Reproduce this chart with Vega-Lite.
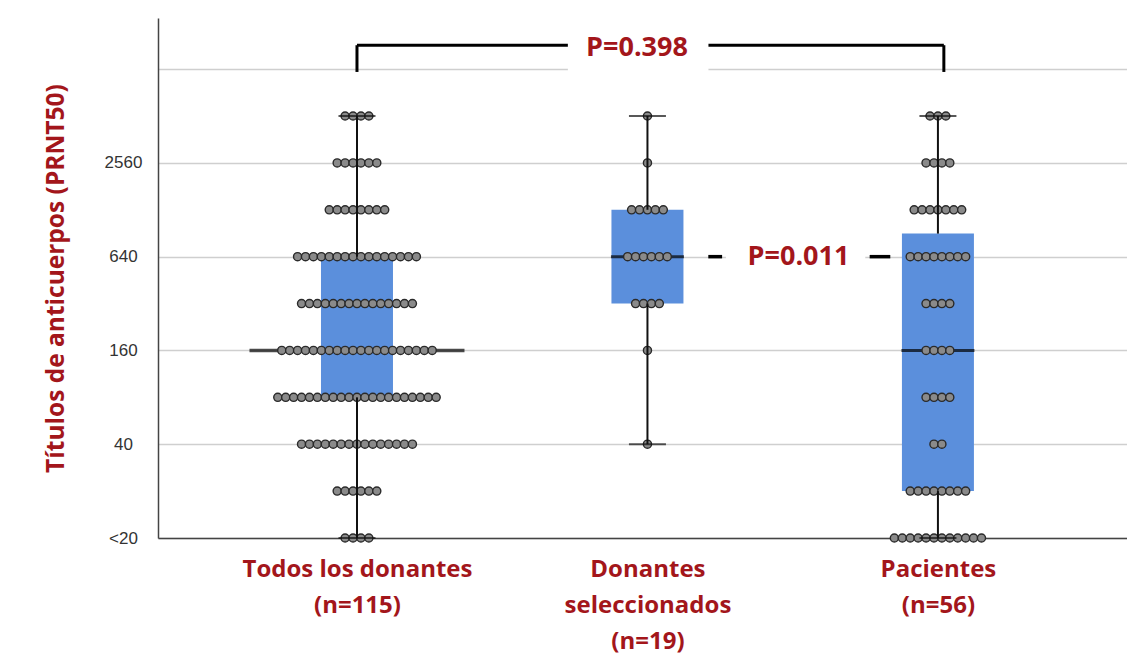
{
  "$schema": "https://vega.github.io/schema/vega-lite/v6.json",
  "width": 969,
  "height": 520,
  "autosize": {"type": "none"},
  "padding": {"left": 158, "top": 18, "right": 0, "bottom": 131},
  "background": "white",
  "config": {"view": {"stroke": null}},
  "datasets": {
    "cajas": [
      {"grupo": "Todos", "min": 10, "q1": 80, "mediana": 160, "q3": 640, "max": 5120},
      {"grupo": "Sel", "min": 40, "q1": 320, "mediana": 640, "q3": 1280, "max": 5120},
      {"grupo": "Pac", "min": 10, "q1": 20, "mediana": 160, "q3": 900, "max": 5120}
    ],
    "puntos": [
      {"grupo":"Todos","titulo":5120},{"grupo":"Todos","titulo":5120},{"grupo":"Todos","titulo":5120},{"grupo":"Todos","titulo":5120},
      {"grupo":"Todos","titulo":2560},{"grupo":"Todos","titulo":2560},{"grupo":"Todos","titulo":2560},{"grupo":"Todos","titulo":2560},{"grupo":"Todos","titulo":2560},{"grupo":"Todos","titulo":2560},
      {"grupo":"Todos","titulo":1280},{"grupo":"Todos","titulo":1280},{"grupo":"Todos","titulo":1280},{"grupo":"Todos","titulo":1280},{"grupo":"Todos","titulo":1280},{"grupo":"Todos","titulo":1280},{"grupo":"Todos","titulo":1280},{"grupo":"Todos","titulo":1280},
      {"grupo":"Todos","titulo":640},{"grupo":"Todos","titulo":640},{"grupo":"Todos","titulo":640},{"grupo":"Todos","titulo":640},{"grupo":"Todos","titulo":640},{"grupo":"Todos","titulo":640},{"grupo":"Todos","titulo":640},{"grupo":"Todos","titulo":640},
      {"grupo":"Todos","titulo":640},{"grupo":"Todos","titulo":640},{"grupo":"Todos","titulo":640},{"grupo":"Todos","titulo":640},{"grupo":"Todos","titulo":640},{"grupo":"Todos","titulo":640},{"grupo":"Todos","titulo":640},{"grupo":"Todos","titulo":640},
      {"grupo":"Todos","titulo":320},{"grupo":"Todos","titulo":320},{"grupo":"Todos","titulo":320},{"grupo":"Todos","titulo":320},{"grupo":"Todos","titulo":320},
      {"grupo":"Todos","titulo":320},{"grupo":"Todos","titulo":320},{"grupo":"Todos","titulo":320},{"grupo":"Todos","titulo":320},{"grupo":"Todos","titulo":320},
      {"grupo":"Todos","titulo":320},{"grupo":"Todos","titulo":320},{"grupo":"Todos","titulo":320},{"grupo":"Todos","titulo":320},{"grupo":"Todos","titulo":320},
      {"grupo":"Todos","titulo":160},{"grupo":"Todos","titulo":160},{"grupo":"Todos","titulo":160},{"grupo":"Todos","titulo":160},{"grupo":"Todos","titulo":160},
      {"grupo":"Todos","titulo":160},{"grupo":"Todos","titulo":160},{"grupo":"Todos","titulo":160},{"grupo":"Todos","titulo":160},{"grupo":"Todos","titulo":160},
      {"grupo":"Todos","titulo":160},{"grupo":"Todos","titulo":160},{"grupo":"Todos","titulo":160},{"grupo":"Todos","titulo":160},{"grupo":"Todos","titulo":160},
      {"grupo":"Todos","titulo":160},{"grupo":"Todos","titulo":160},{"grupo":"Todos","titulo":160},{"grupo":"Todos","titulo":160},{"grupo":"Todos","titulo":160},
      {"grupo":"Todos","titulo":80},{"grupo":"Todos","titulo":80},{"grupo":"Todos","titulo":80},{"grupo":"Todos","titulo":80},{"grupo":"Todos","titulo":80},
      {"grupo":"Todos","titulo":80},{"grupo":"Todos","titulo":80},{"grupo":"Todos","titulo":80},{"grupo":"Todos","titulo":80},{"grupo":"Todos","titulo":80},
      {"grupo":"Todos","titulo":80},{"grupo":"Todos","titulo":80},{"grupo":"Todos","titulo":80},{"grupo":"Todos","titulo":80},{"grupo":"Todos","titulo":80},
      {"grupo":"Todos","titulo":80},{"grupo":"Todos","titulo":80},{"grupo":"Todos","titulo":80},{"grupo":"Todos","titulo":80},{"grupo":"Todos","titulo":80},
      {"grupo":"Todos","titulo":80},
      {"grupo":"Todos","titulo":40},{"grupo":"Todos","titulo":40},{"grupo":"Todos","titulo":40},{"grupo":"Todos","titulo":40},{"grupo":"Todos","titulo":40},
      {"grupo":"Todos","titulo":40},{"grupo":"Todos","titulo":40},{"grupo":"Todos","titulo":40},{"grupo":"Todos","titulo":40},{"grupo":"Todos","titulo":40},
      {"grupo":"Todos","titulo":40},{"grupo":"Todos","titulo":40},{"grupo":"Todos","titulo":40},{"grupo":"Todos","titulo":40},{"grupo":"Todos","titulo":40},
      {"grupo":"Todos","titulo":20},{"grupo":"Todos","titulo":20},{"grupo":"Todos","titulo":20},{"grupo":"Todos","titulo":20},{"grupo":"Todos","titulo":20},{"grupo":"Todos","titulo":20},
      {"grupo":"Todos","titulo":10},{"grupo":"Todos","titulo":10},{"grupo":"Todos","titulo":10},{"grupo":"Todos","titulo":10},
      {"grupo":"Sel","titulo":5120},
      {"grupo":"Sel","titulo":2560},
      {"grupo":"Sel","titulo":1280},{"grupo":"Sel","titulo":1280},{"grupo":"Sel","titulo":1280},{"grupo":"Sel","titulo":1280},{"grupo":"Sel","titulo":1280},
      {"grupo":"Sel","titulo":640},{"grupo":"Sel","titulo":640},{"grupo":"Sel","titulo":640},{"grupo":"Sel","titulo":640},{"grupo":"Sel","titulo":640},{"grupo":"Sel","titulo":640},
      {"grupo":"Sel","titulo":320},{"grupo":"Sel","titulo":320},{"grupo":"Sel","titulo":320},{"grupo":"Sel","titulo":320},
      {"grupo":"Sel","titulo":160},
      {"grupo":"Sel","titulo":40},
      {"grupo":"Pac","titulo":5120},{"grupo":"Pac","titulo":5120},{"grupo":"Pac","titulo":5120},
      {"grupo":"Pac","titulo":2560},{"grupo":"Pac","titulo":2560},{"grupo":"Pac","titulo":2560},{"grupo":"Pac","titulo":2560},
      {"grupo":"Pac","titulo":1280},{"grupo":"Pac","titulo":1280},{"grupo":"Pac","titulo":1280},{"grupo":"Pac","titulo":1280},{"grupo":"Pac","titulo":1280},{"grupo":"Pac","titulo":1280},{"grupo":"Pac","titulo":1280},
      {"grupo":"Pac","titulo":640},{"grupo":"Pac","titulo":640},{"grupo":"Pac","titulo":640},{"grupo":"Pac","titulo":640},{"grupo":"Pac","titulo":640},{"grupo":"Pac","titulo":640},{"grupo":"Pac","titulo":640},{"grupo":"Pac","titulo":640},
      {"grupo":"Pac","titulo":320},{"grupo":"Pac","titulo":320},{"grupo":"Pac","titulo":320},{"grupo":"Pac","titulo":320},
      {"grupo":"Pac","titulo":160},{"grupo":"Pac","titulo":160},{"grupo":"Pac","titulo":160},{"grupo":"Pac","titulo":160},
      {"grupo":"Pac","titulo":80},{"grupo":"Pac","titulo":80},{"grupo":"Pac","titulo":80},{"grupo":"Pac","titulo":80},
      {"grupo":"Pac","titulo":40},{"grupo":"Pac","titulo":40},
      {"grupo":"Pac","titulo":20},{"grupo":"Pac","titulo":20},{"grupo":"Pac","titulo":20},{"grupo":"Pac","titulo":20},{"grupo":"Pac","titulo":20},{"grupo":"Pac","titulo":20},{"grupo":"Pac","titulo":20},{"grupo":"Pac","titulo":20},
      {"grupo":"Pac","titulo":10},{"grupo":"Pac","titulo":10},{"grupo":"Pac","titulo":10},{"grupo":"Pac","titulo":10},{"grupo":"Pac","titulo":10},{"grupo":"Pac","titulo":10},
      {"grupo":"Pac","titulo":10},{"grupo":"Pac","titulo":10},{"grupo":"Pac","titulo":10},{"grupo":"Pac","titulo":10},{"grupo":"Pac","titulo":10},{"grupo":"Pac","titulo":10}
    ]
  },
  "layer": [
    {
      "data": {"name": "cajas"},
      "transform": [{"calculate": "indexof(['Todos','Sel','Pac'], datum.grupo)", "as": "gidx"}],
      "mark": {"type": "bar", "width": 72, "color": "#5b8fdc"},
      "encoding": {
        "x": {
          "field": "gidx", "type": "quantitative",
          "scale": {"domain": [-0.6678, 2.6337], "nice": false, "zero": false},
          "axis": {
            "values": [0, 1, 2],
            "title": null,
            "grid": false,
            "ticks": false,
            "domain": true,
            "domainColor": "#444444",
            "domainWidth": 1.5,
            "labelExpr": "datum.value < 0.5 ? ['Todos los donantes', '(n=115)'] : datum.value < 1.5 ? ['Donantes', 'seleccionados', '(n=19)'] : ['Pacientes', '(n=56)']",
            "labelFont": "Open Sans",
            "labelFontWeight": "bold",
            "labelFontSize": 24,
            "labelColor": "#a3161b",
            "labelLineHeight": 36,
            "labelPadding": 19,
            "labelLimit": 0,
            "labelOverlap": false,
            "labelFlush": false,
            "labelBound": false
          }
        },
        "y": {
          "field": "q1", "type": "quantitative",
          "scale": {"type": "log", "base": 2, "domain": [10, 21800], "nice": false},
          "axis": {
            "values": [10, 40, 160, 640, 2560, 10240],
            "format": "d",
            "labelExpr": "datum.value < 15 ? '<20' : datum.value > 5000 ? '' : datum.label",
            "title": "Títulos de anticuerpos (PRNT50)",
            "titleFont": "Open Sans",
            "titleFontWeight": "bold",
            "titleFontSize": 24.5,
            "titleColor": "#a3161b",
            "titlePadding": 36,
            "grid": true,
            "gridColor": "#cfcfcf",
            "gridWidth": 1.5,
            "ticks": false,
            "domain": true,
            "domainColor": "#444444",
            "domainWidth": 1.5,
            "labelFont": "Liberation Sans",
            "labelFontSize": 17,
            "labelColor": "#333333",
            "labelAlign": "center",
            "labelPadding": 35,
            "labelOverlap": false
          }
        },
        "y2": {"field": "q3"}
      }
    },
    {
      "data": {"name": "cajas"},
      "transform": [
        {"filter": "datum.grupo == 'Todos'"},
        {"calculate": "indexof(['Todos','Sel','Pac'], datum.grupo)", "as": "gidx"}
      ],
      "mark": {"type": "tick", "orient": "horizontal", "size": 215, "thickness": 3.5, "color": "black"},
      "encoding": {
        "x": {"field": "gidx", "type": "quantitative"},
        "y": {"field": "mediana", "type": "quantitative"}
      }
    },
    {
      "data": {"name": "cajas"},
      "transform": [
        {"filter": "datum.grupo != 'Todos'"},
        {"calculate": "indexof(['Todos','Sel','Pac'], datum.grupo)", "as": "gidx"}
      ],
      "mark": {"type": "tick", "orient": "horizontal", "size": 73, "thickness": 3, "color": "black"},
      "encoding": {
        "x": {"field": "gidx", "type": "quantitative"},
        "y": {"field": "mediana", "type": "quantitative"}
      }
    },
    {
      "data": {"name": "puntos"},
      "transform": [
        {"window": [{"op": "row_number", "as": "rk"}], "groupby": ["grupo", "titulo"]},
        {"joinaggregate": [{"op": "count", "as": "n"}], "groupby": ["grupo", "titulo"]},
        {"calculate": "indexof(['Todos','Sel','Pac'], datum.grupo) + (datum.rk - (datum.n + 1) / 2) * 0.02726", "as": "xpos"}
      ],
      "mark": {"type": "point", "shape": "circle", "filled": true, "size": 66, "fill": "#8a8a8a", "stroke": "#2a2a2a", "strokeWidth": 1.4, "opacity": 1},
      "encoding": {
        "x": {"field": "xpos", "type": "quantitative"},
        "y": {"field": "titulo", "type": "quantitative"}
      }
    },
    {
      "data": {"name": "cajas"},
      "transform": [{"calculate": "indexof(['Todos','Sel','Pac'], datum.grupo)", "as": "gidx"}],
      "mark": {"type": "rule", "color": "#111111", "strokeWidth": 2},
      "encoding": {
        "x": {"field": "gidx", "type": "quantitative"},
        "y": {"field": "min", "type": "quantitative"},
        "y2": {"field": "q1"}
      }
    },
    {
      "data": {"name": "cajas"},
      "transform": [{"calculate": "indexof(['Todos','Sel','Pac'], datum.grupo)", "as": "gidx"}],
      "mark": {"type": "rule", "color": "#111111", "strokeWidth": 2},
      "encoding": {
        "x": {"field": "gidx", "type": "quantitative"},
        "y": {"field": "q3", "type": "quantitative"},
        "y2": {"field": "max"}
      }
    },
    {
      "data": {"name": "cajas"},
      "transform": [{"calculate": "indexof(['Todos','Sel','Pac'], datum.grupo)", "as": "gidx"}],
      "mark": {"type": "tick", "orient": "horizontal", "size": 37, "thickness": 2, "color": "#111111"},
      "encoding": {
        "x": {"field": "gidx", "type": "quantitative"},
        "y": {"field": "max", "type": "quantitative"}
      }
    },
    {
      "data": {"name": "cajas"},
      "transform": [{"calculate": "indexof(['Todos','Sel','Pac'], datum.grupo)", "as": "gidx"}],
      "mark": {"type": "tick", "orient": "horizontal", "size": 37, "thickness": 2, "color": "#111111"},
      "encoding": {
        "x": {"field": "gidx", "type": "quantitative"},
        "y": {"field": "min", "type": "quantitative"}
      }
    },
    {
      "data": {"values": [{}]},
      "mark": {"type": "rule", "color": "black", "strokeWidth": 3},
      "encoding": {
        "x": {"datum": 0, "type": "quantitative"},
        "x2": {"datum": 2.0204},
        "y": {"datum": 14580, "type": "quantitative"}
      }
    },
    {
      "data": {"values": [{}]},
      "mark": {"type": "rule", "color": "black", "strokeWidth": 3},
      "encoding": {
        "x": {"datum": 0, "type": "quantitative"},
        "y": {"datum": 9820, "type": "quantitative"},
        "y2": {"datum": 14580}
      }
    },
    {
      "data": {"values": [{}]},
      "mark": {"type": "rule", "color": "black", "strokeWidth": 3},
      "encoding": {
        "x": {"datum": 2.0204, "type": "quantitative"},
        "y": {"datum": 9820, "type": "quantitative"},
        "y2": {"datum": 14580}
      }
    },
    {
      "data": {"values": [{}]},
      "mark": {"type": "rect", "color": "white", "opacity": 1},
      "encoding": {
        "x": {"datum": 0.726, "type": "quantitative"},
        "x2": {"datum": 1.21},
        "y": {"datum": 9500, "type": "quantitative"},
        "y2": {"datum": 18500}
      }
    },
    {
      "data": {"values": [{}]},
      "mark": {"type": "rect", "color": "white", "opacity": 1},
      "encoding": {
        "x": {"datum": 1.27, "type": "quantitative"},
        "x2": {"datum": 1.75},
        "y": {"datum": 530, "type": "quantitative"},
        "y2": {"datum": 780}
      }
    },
    {
      "data": {"values": [{}]},
      "mark": {"type": "rule", "color": "black", "strokeWidth": 3.5},
      "encoding": {
        "x": {"datum": 1.2095, "type": "quantitative"},
        "x2": {"datum": 1.257},
        "y": {"datum": 640, "type": "quantitative"}
      }
    },
    {
      "data": {"values": [{}]},
      "mark": {"type": "rule", "color": "black", "strokeWidth": 3.5},
      "encoding": {
        "x": {"datum": 1.765, "type": "quantitative"},
        "x2": {"datum": 1.836},
        "y": {"datum": 640, "type": "quantitative"}
      }
    },
    {
      "data": {"values": [{}]},
      "mark": {"type": "text", "text": "P=0.398", "font": "Open Sans", "fontWeight": "bold", "fontSize": 27, "color": "#a3161b", "align": "center", "baseline": "middle"},
      "encoding": {
        "x": {"datum": 0.964, "type": "quantitative"},
        "y": {"datum": 13990, "type": "quantitative"}
      }
    },
    {
      "data": {"values": [{}]},
      "mark": {"type": "text", "text": "P=0.011", "font": "Open Sans", "fontWeight": "bold", "fontSize": 27, "color": "#a3161b", "align": "center", "baseline": "middle"},
      "encoding": {
        "x": {"datum": 1.52, "type": "quantitative"},
        "y": {"datum": 640, "type": "quantitative"}
      }
    }
  ]
}
